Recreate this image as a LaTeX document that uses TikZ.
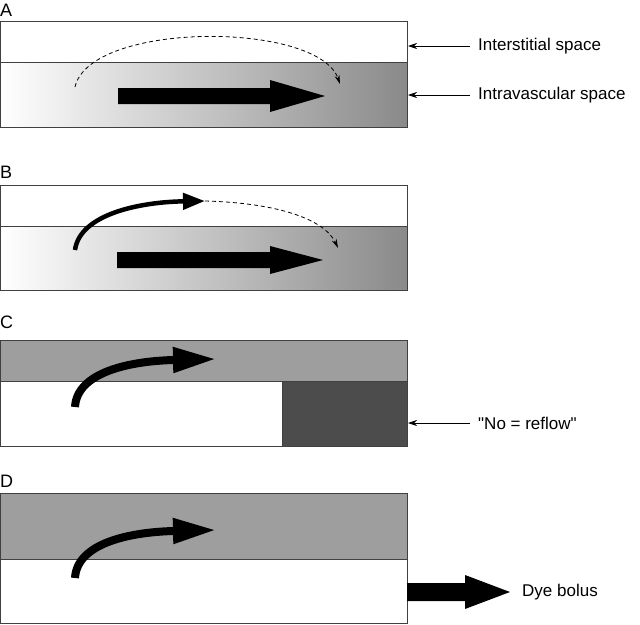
\documentclass[tikz,border=0pt]{standalone}
\usepackage{fontspec}
\setmainfont{Liberation Sans}[Ligatures=TeXOff]
\usetikzlibrary{arrows.meta}

\definecolor{flowgray}{gray}{0.54}
\definecolor{fullgray}{gray}{0.62}
\definecolor{plugdark}{gray}{0.30}

\tikzset{
  panel/.style = {draw=black!75, line width=0.9pt},
  letter/.style = {anchor=west, inner sep=0pt, font=\fontsize{18}{20}\selectfont},
  tag/.style = {anchor=west, inner sep=0pt, font=\fontsize{17}{19}\selectfont},
  pointer/.style = {-{Stealth[length=9pt,width=6pt]}, line width=0.7pt},
  leak/.style = {line width=0.8pt, dash pattern=on 4pt off 3pt, -{Stealth[length=9pt,width=5pt]}},
  thinbend/.style = {line width=4.5pt, -{Triangle[length=22pt,width=16pt]}},
  fatbend/.style = {line width=8pt, -{Triangle[length=43pt,width=24pt]}}
}

\begin{document}
\begin{tikzpicture}[x=1pt,y=-1pt]
\useasboundingbox (0,0) rectangle (640,624);

% panel A
\node[letter] (lA) at (0,10) {A};
\shade[left color=white, right color=flowgray] (0.5,62) rectangle (407,127);
\draw[panel] (0.5,21) rectangle (407,127);
\draw[panel] (0.5,62) -- (407,62);
\fill (118,88) -- (270,88) -- (270,80) -- (325,96) -- (270,112) -- (270,104) -- (118,104) -- cycle;
\draw[leak] (75,87) .. controls (90,21) and (318,21) .. (340,84);
\node[tag] (inter) at (478,46) {Interstitial space};
\node[tag] (intra) at (478,95) {Intravascular space};
\coordinate (eA1) at (408,46);
\coordinate (eA2) at (408,95);
\draw[pointer] ([xshift=-8pt]inter.west) -- (eA1);
\draw[pointer] ([xshift=-8pt]intra.west) -- (eA2);

% panel B
\node[letter] (lB) at (0,172) {B};
\shade[left color=white, right color=flowgray] (0.5,226) rectangle (407,290);
\draw[panel] (0.5,185) rectangle (407,290);
\draw[panel] (0.5,226) -- (407,226);
\fill (117,252) -- (270,252) -- (270,246) -- (323,260) -- (270,274) -- (270,268) -- (117,268) -- cycle;
\coordinate (bTip) at (205,201);
\draw[thinbend] (75,250) .. controls (80,214) and (140,202) .. (bTip);
\draw[leak] (bTip) .. controls (280,203) and (325,220) .. (338,248);

% panel C
\node[letter] (lC) at (0,322) {C};
\fill[fullgray] (0.5,340) rectangle (407,381);
\fill[plugdark] (282,381) rectangle (407,446);
\draw[panel] (0.5,340) rectangle (407,446);
\draw[panel] (0.5,381) -- (407,381);
\draw[panel] (282,381) -- (282,446);
\draw[fatbend] (75,407) .. controls (77,372) and (130,361) .. (216,359);
\node[tag] (noreflow) at (478,423) {"No = reflow"};
\coordinate (eC) at (408,423);
\draw[pointer] ([xshift=-8pt]noreflow.west) -- (eC);

% panel D
\node[letter] (lD) at (0,481) {D};
\fill[fullgray] (0.5,493) rectangle (407,559);
\draw[panel] (0.5,493) rectangle (407,623);
\draw[panel] (0.5,559) -- (407,559);
\draw[fatbend] (75,578) .. controls (77,543) and (130,532) .. (216,530);
\fill (407,583) -- (465,583) -- (465,575) -- (510,592) -- (465,609) -- (465,601) -- (407,601) -- cycle;
\node[tag] (dye) at (522,592) {Dye bolus};

\end{tikzpicture}
\end{document}
